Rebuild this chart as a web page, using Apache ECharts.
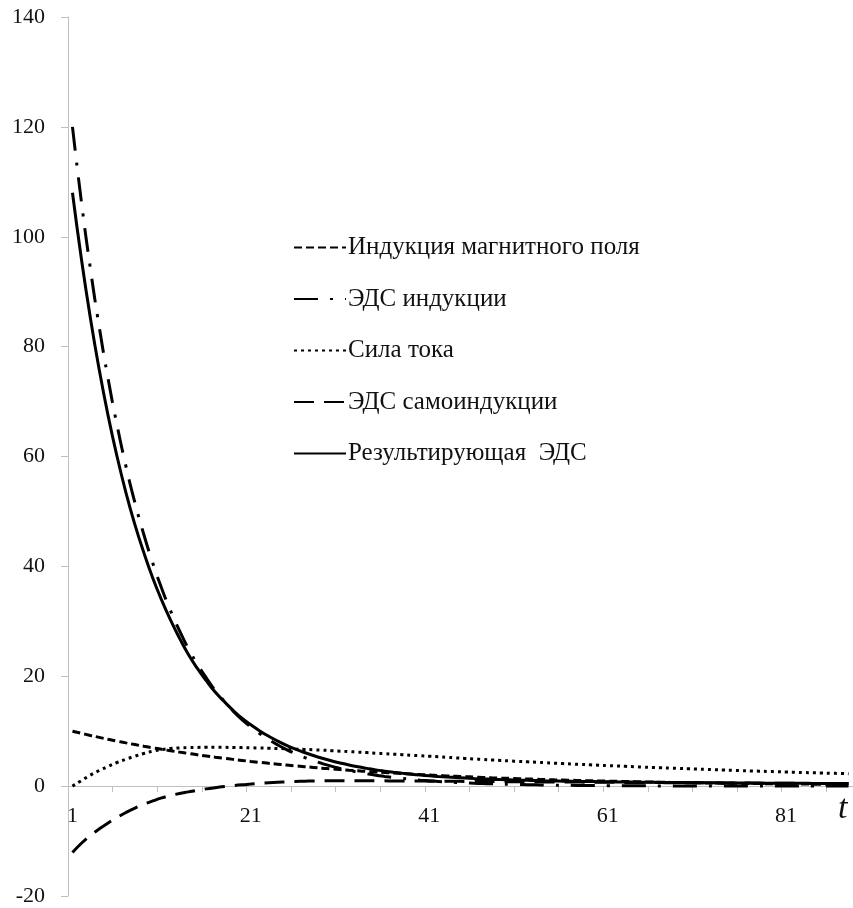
<!DOCTYPE html>
<html lang="ru">
<head>
<meta charset="UTF-8">
<title>ЭДС</title>
<script src="https://cdn.jsdelivr.net/npm/echarts@6/dist/echarts.min.js"></script>
<style>
    html, body { margin: 0; padding: 0; background: #fff; }
    #chart { width: 853px; height: 908px; }
</style>
</head>
<body>

<div id="chart"></div>

<script>
// t = 1 .. 88
var tValues = [
    1, 2, 3, 4, 5, 6, 7, 8, 9, 10, 11, 12, 13, 14, 15, 16, 17, 18, 19, 20,
    21, 22, 23, 24, 25, 26, 27, 28, 29, 30, 31, 32, 33, 34, 35, 36, 37, 38, 39, 40,
    41, 42, 43, 44, 45, 46, 47, 48, 49, 50, 51, 52, 53, 54, 55, 56, 57, 58, 59, 60,
    61, 62, 63, 64, 65, 66, 67, 68, 69, 70, 71, 72, 73, 74, 75, 76, 77, 78, 79, 80,
    81, 82, 83, 84, 85, 86, 87, 88
];

var yTicks = [-20, 0, 20, 40, 60, 80, 100, 120, 140];

// Индукция магнитного поля
var inductionB = [
    10, 9.61, 9.23, 8.87, 8.52, 8.19, 7.87, 7.56, 7.26, 6.98,
    6.7, 6.44, 6.19, 5.95, 5.71, 5.49, 5.27, 5.07, 4.87, 4.68,
    4.49, 4.32, 4.15, 3.99, 3.83, 3.68, 3.54, 3.4, 3.26, 3.14,
    3.01, 2.89, 2.78, 2.67, 2.57, 2.47, 2.37, 2.28, 2.19, 2.1,
    2.02, 1.94, 1.86, 1.79, 1.72, 1.65, 1.59, 1.52, 1.46, 1.41,
    1.35, 1.3, 1.25, 1.2, 1.15, 1.11, 1.06, 1.02, 0.98, 0.94,
    0.91, 0.87, 0.84, 0.8, 0.77, 0.74, 0.71, 0.68, 0.66, 0.63,
    0.61, 0.58, 0.56, 0.54, 0.52, 0.5, 0.48, 0.46, 0.44, 0.42,
    0.41, 0.39, 0.38, 0.36, 0.35, 0.33, 0.32, 0.31
];

// ЭДС индукции
var emfInduction = [
    120, 106.4, 94.3, 83.6, 74.1, 65.7, 58.2, 51.6, 45.8, 40.6,
    36.0, 31.9, 28.3, 25.0, 22.2, 19.7, 17.4, 15.5, 13.7, 12.1,
    10.8, 9.55, 8.47, 7.51, 6.65, 5.9, 5.23, 4.64, 4.11, 3.64,
    3.23, 2.86, 2.54, 2.25, 1.99, 1.77, 1.57, 1.39, 1.23, 1.09,
    0.97, 0.86, 0.76, 0.67, 0.6, 0.53, 0.47, 0.42, 0.37, 0.33,
    0.29, 0.26, 0.23, 0.2, 0.18, 0.16, 0.14, 0.12, 0.11, 0.1,
    0.09, 0.08, 0.07, 0.06, 0.05, 0.05, 0.04, 0.04, 0.03, 0.03,
    0.03, 0.02, 0.02, 0.02, 0.02, 0.01, 0.01, 0.01, 0.01, 0.01,
    0.01, 0.01, 0.01, 0.01, 0.01, 0.01, 0.01, 0.01
];

// Сила тока
var current = [
    0, 1.0, 2.0, 2.85, 3.6, 4.3, 4.9, 5.45, 5.95, 6.35,
    6.65, 6.85, 6.95, 7.02, 7.05, 7.07, 7.07, 7.06, 7.04, 7.01,
    6.98, 6.94, 6.9, 6.85, 6.8, 6.74, 6.68, 6.62, 6.55, 6.46,
    6.37, 6.28, 6.19, 6.1, 6.0, 5.91, 5.81, 5.72, 5.62, 5.53,
    5.44, 5.34, 5.24, 5.14, 5.05, 4.95, 4.86, 4.77, 4.68, 4.59,
    4.51, 4.42, 4.34, 4.26, 4.18, 4.1, 4.03, 3.95, 3.88, 3.81,
    3.74, 3.67, 3.6, 3.53, 3.47, 3.4, 3.34, 3.28, 3.22, 3.16,
    3.1, 3.04, 2.98, 2.93, 2.87, 2.82, 2.77, 2.72, 2.67, 2.62,
    2.57, 2.52, 2.47, 2.43, 2.38, 2.34, 2.3, 2.25
];

// ЭДС самоиндукции
var emfSelf = [
    -12.1, -10.4, -9.0, -7.8, -6.7, -5.7, -4.8, -4.0, -3.3, -2.7,
    -2.15, -1.7, -1.35, -1.05, -0.75, -0.5, -0.28, -0.08, 0.1, 0.25,
    0.37, 0.5, 0.61, 0.7, 0.78, 0.84, 0.89, 0.93, 0.96, 0.98,
    0.99, 0.99, 0.98, 0.98, 0.97, 0.96, 0.95, 0.94, 0.93, 0.92,
    0.91, 0.9, 0.89, 0.88, 0.86, 0.85, 0.84, 0.83, 0.82, 0.81,
    0.8, 0.79, 0.78, 0.77, 0.76, 0.75, 0.74, 0.73, 0.72, 0.71,
    0.7, 0.69, 0.68, 0.67, 0.66, 0.65, 0.64, 0.63, 0.62, 0.61,
    0.6, 0.59, 0.58, 0.57, 0.56, 0.56, 0.55, 0.54, 0.53, 0.52,
    0.52, 0.51, 0.5, 0.49, 0.49, 0.48, 0.47, 0.47
];

// Результирующая ЭДС
var emfResult = [
    108, 96.0, 85.3, 75.8, 67.4, 60.0, 53.4, 47.6, 42.5, 37.9,
    33.85, 30.2, 26.95, 23.95, 21.45, 19.2, 17.12, 15.42, 13.8, 12.35,
    11.17, 10.05, 9.08, 8.21, 7.43, 6.74, 6.12, 5.57, 5.07, 4.62,
    4.22, 3.85, 3.52, 3.23, 2.96, 2.73, 2.52, 2.33, 2.16, 2.01,
    1.88, 1.76, 1.65, 1.55, 1.46, 1.38, 1.31, 1.25, 1.19, 1.14,
    1.09, 1.05, 1.01, 0.97, 0.94, 0.91, 0.88, 0.85, 0.83, 0.81,
    0.79, 0.77, 0.75, 0.73, 0.71, 0.7, 0.68, 0.67, 0.65, 0.64,
    0.63, 0.61, 0.6, 0.59, 0.58, 0.57, 0.56, 0.55, 0.54, 0.53,
    0.53, 0.52, 0.51, 0.5, 0.5, 0.49, 0.48, 0.48
];

var seriesNames = [
    'Индукция магнитного поля',
    'ЭДС индукции',
    'Сила тока',
    'ЭДС самоиндукции',
    'Результирующая  ЭДС'
];

var font = '"Liberation Serif", "DejaVu Serif", serif';
var axisGray = '#bfbfbf';

var chartDom = document.getElementById('chart');
var myChart = echarts.init(chartDom);

function lineSeries(name, data, dash, width) {
    return {
        name: name,
        type: 'line',
        data: data,
        symbol: 'none',
        smooth: true,
        lineStyle: { color: '#000', width: width, type: dash, cap: 'butt' },
        itemStyle: { color: '#000' }
    };
}

var option = {
    animation: false,
    backgroundColor: '#fff',
    textStyle: { fontFamily: font },
    grid: { left: 68, right: 0, top: 17, bottom: 12, containLabel: false, outerBoundsMode: 'none' },
    legend: {
        orient: 'vertical',
        left: 288,
        top: 230,
        itemWidth: 52,
        itemHeight: 22,
        itemGap: 26.5,
        data: seriesNames,
        itemStyle: { opacity: 0 },
        textStyle: { fontFamily: font, fontSize: 25, color: '#111', padding: [0, 0, 0, -3] }
    },
    xAxis: {
        type: 'category',
        data: tValues,
        boundaryGap: true,
        axisLine: { onZero: true, lineStyle: { color: axisGray, width: 1 } },
        axisTick: { show: true, interval: 4, length: 6, inside: false, lineStyle: { color: axisGray } },
        // labels sit at the grid bottom in v6, pull them up under the zero line
        axisLabel: { interval: 19, margin: -91, fontFamily: font, fontSize: 22, color: '#111' },
        splitLine: { show: false }
    },
    yAxis: {
        type: 'value',
        min: yTicks[0],
        max: yTicks[yTicks.length - 1],
        interval: 20,
        axisLine: { show: true, lineStyle: { color: axisGray, width: 1 } },
        axisTick: { show: true, length: 7, lineStyle: { color: axisGray } },
        axisLabel: { margin: 23, fontFamily: font, fontSize: 22, color: '#111' },
        splitLine: { show: false }
    },
    graphic: [{
        type: 'text',
        left: 838,
        top: 792,
        style: { text: 't', font: 'italic 34px "Liberation Serif", serif', fill: '#111' }
    }],
    series: [
        lineSeries(seriesNames[0], inductionB, [8, 4], 3),
        lineSeries(seriesNames[1], emfInduction, [24, 12, 3, 12], 3),
        lineSeries(seriesNames[2], current, [3, 4], 3),
        lineSeries(seriesNames[3], emfSelf, [20, 10], 3),
        lineSeries(seriesNames[4], emfResult, 'solid', 3)
    ]
};

myChart.setOption(option);
</script>

</body>
</html>
